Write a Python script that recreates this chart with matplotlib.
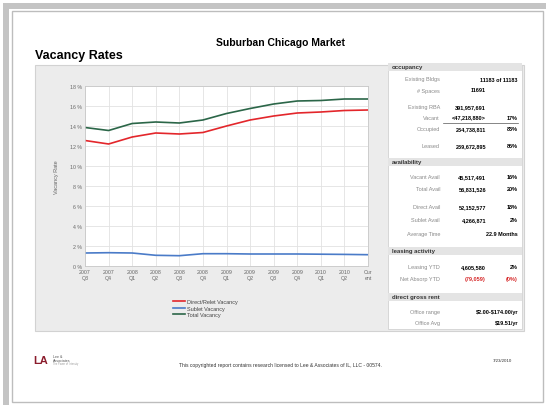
import matplotlib
matplotlib.use("Agg")
import matplotlib.pyplot as plt
from matplotlib.patches import Rectangle

plt.rcParams['font.family'] = ['Liberation Sans', 'DejaVu Sans']

quarters = ["2007\nQ3", "2007\nQ4", "2008\nQ1", "2008\nQ2", "2008\nQ3", "2008\nQ4",
            "2009\nQ1", "2009\nQ2", "2009\nQ3", "2009\nQ4", "2010\nQ1", "2010\nQ2", "Cur\nent"]
direct = [12.55, 12.2, 12.9, 13.3, 13.2, 13.35, 14.0, 14.6, 15.0, 15.3, 15.4, 15.55, 15.6]
sublet = [1.3, 1.33, 1.3, 1.07, 1.03, 1.23, 1.23, 1.2, 1.2, 1.2, 1.18, 1.16, 1.13]
total = [13.85, 13.55, 14.25, 14.4, 14.3, 14.6, 15.25, 15.75, 16.2, 16.5, 16.55, 16.7, 16.7]

# right panel rows: (label, value, percent, y)
sections = [("occupancy", 68), ("availability", 163), ("leasing activity", 252),
            ("direct gross rent", 298)]
rows = [
    ("Existing Bldgs", "", "11183 of 11183", 80),
    ("# Spaces", "11691", "", 91),
    ("Existing RBA", "391,957,691", "", 108),
    ("Vacant", "<47,218,880>", "17%", 118),
    ("Occupied", "234,738,811", "83%", 130),
    ("Leased", "239,672,895", "85%", 147),
    ("Vacant Avail", "45,517,491", "16%", 178),
    ("Total Avail", "56,831,526", "20%", 190),
    ("Direct Avail", "52,152,577", "18%", 208),
    ("Sublet Avail", "4,266,871", "2%", 221),
    ("Average Time", "", "22.9 Months", 235),
    ("Leasing YTD", "4,605,580", "2%", 268),
    ("Net Absorp YTD", "(79,059)", "(0%)", 280),
    ("Office range", "", r"\$2.00-\$174.00/yr", 313),
    ("Office Avg", "", r"\$19.51/yr", 324),
]

W, H = 546, 406
fig = plt.figure(figsize=(W / 100, H / 100), dpi=100)
bg = fig.add_axes([0, 0, 1, 1])
bg.set_xlim(0, W)
bg.set_ylim(H, 0)
bg.axis("off")

# page frame
bg.add_patch(Rectangle((3, 4), W, 6, color="#c4c4c4", lw=0))
bg.add_patch(Rectangle((3, 4), 6, H, color="#c4c4c4", lw=0))
bg.add_patch(Rectangle((12, 12), 531, 391, fill=False, ec="#bdbdbd", lw=1))

bg.text(280, 43, "Suburban Chicago Market", ha="center", va="center",
        fontsize=7.5, fontweight="bold")
bg.text(35, 56, "Vacancy Rates", ha="left", va="center", fontsize=9,
        fontweight="bold")

# chart container + right panel
bg.add_patch(Rectangle((35, 66), 489, 266, fc="#ececec", ec="#d2d2d2", lw=0.8))
bg.add_patch(Rectangle((388, 66), 134, 264, fc="white", ec="#d2d2d2", lw=0.6))
for name, y in sections:
    bg.add_patch(Rectangle((388, y - 4), 134, 8, fc="#e4e4e4", lw=0))
    bg.text(392, y, name, ha="left", va="center", fontsize=4.3, fontweight="bold",
            color="#333333")
for label, val, pct, y in rows:
    col = "#d62728" if label == "Net Absorp YTD" else "black"
    bg.text(440, y, label, ha="right", va="center", fontsize=4, color="#8a8a8a")
    if val:
        bg.text(486, y, val, ha="right", va="center", fontsize=4,
                fontweight="bold", color=col)
    if pct:
        bg.text(518, y, pct, ha="right", va="center", fontsize=4,
                fontweight="bold", color=col)
bg.plot([443, 518], [123.5, 123.5], color="#555555", lw=0.5)

# footer
bg.text(33, 361, "LA", ha="left", va="center", fontsize=8, fontweight="bold",
        color="#8b1c2c")
bg.text(53, 357, "Lee &", ha="left", va="center", fontsize=2.6, color="#555555")
bg.text(53, 361, "Associates", ha="left", va="center", fontsize=2.6, color="#555555")
bg.text(53, 364.5, "The Power of Intensity", ha="left", va="center", fontsize=1.8,
        color="#999999")
bg.text(280, 366, "This copyrighted report contains research licensed to Lee & "
        "Associates of IL, LLC - 00574.", ha="center", va="center", fontsize=3.6,
        color="#333333")
bg.text(512, 361, "7/23/2010", ha="right", va="center", fontsize=3.2, color="#333333")

# plot
ax = fig.add_axes([85 / W, 1 - 267 / H, 283 / W, 180 / H])
x = list(range(len(quarters)))
ax.plot(x, direct, color="#e3262b", lw=1.2, label="Direct/Relet Vacancy")
ax.plot(x, sublet, color="#4a7bc8", lw=1.2, label="Sublet Vacancy")
ax.plot(x, total, color="#2b6648", lw=1.2, label="Total Vacancy")
ax.set_xlim(0, len(quarters) - 1)
ax.set_ylim(0, 18)
ax.set_yticks(range(0, 19, 2))
ax.set_yticklabels([f"{v} %" for v in range(0, 19, 2)])
ax.set_xticks(x)
ax.set_xticklabels(quarters)
ax.tick_params(length=0, labelsize=3.8, labelcolor="#666666", pad=2)
ax.grid(color="#e2e2e2", lw=0.6)
ax.set_axisbelow(True)
for s in ax.spines.values():
    s.set_color("#c8c8c8")
    s.set_linewidth(0.6)
ax.set_ylabel("Vacancy Rate", fontsize=4, color="#666666", labelpad=8)
ax.legend(loc="upper left", bbox_to_anchor=(168 / W, 1 - 295 / H),
          bbox_transform=fig.transFigure, frameon=False, fontsize=4,
          handlelength=2.2, handletextpad=0.4, labelspacing=0.3,
          labelcolor="#444444")

fig.savefig("out.png", dpi=100)
